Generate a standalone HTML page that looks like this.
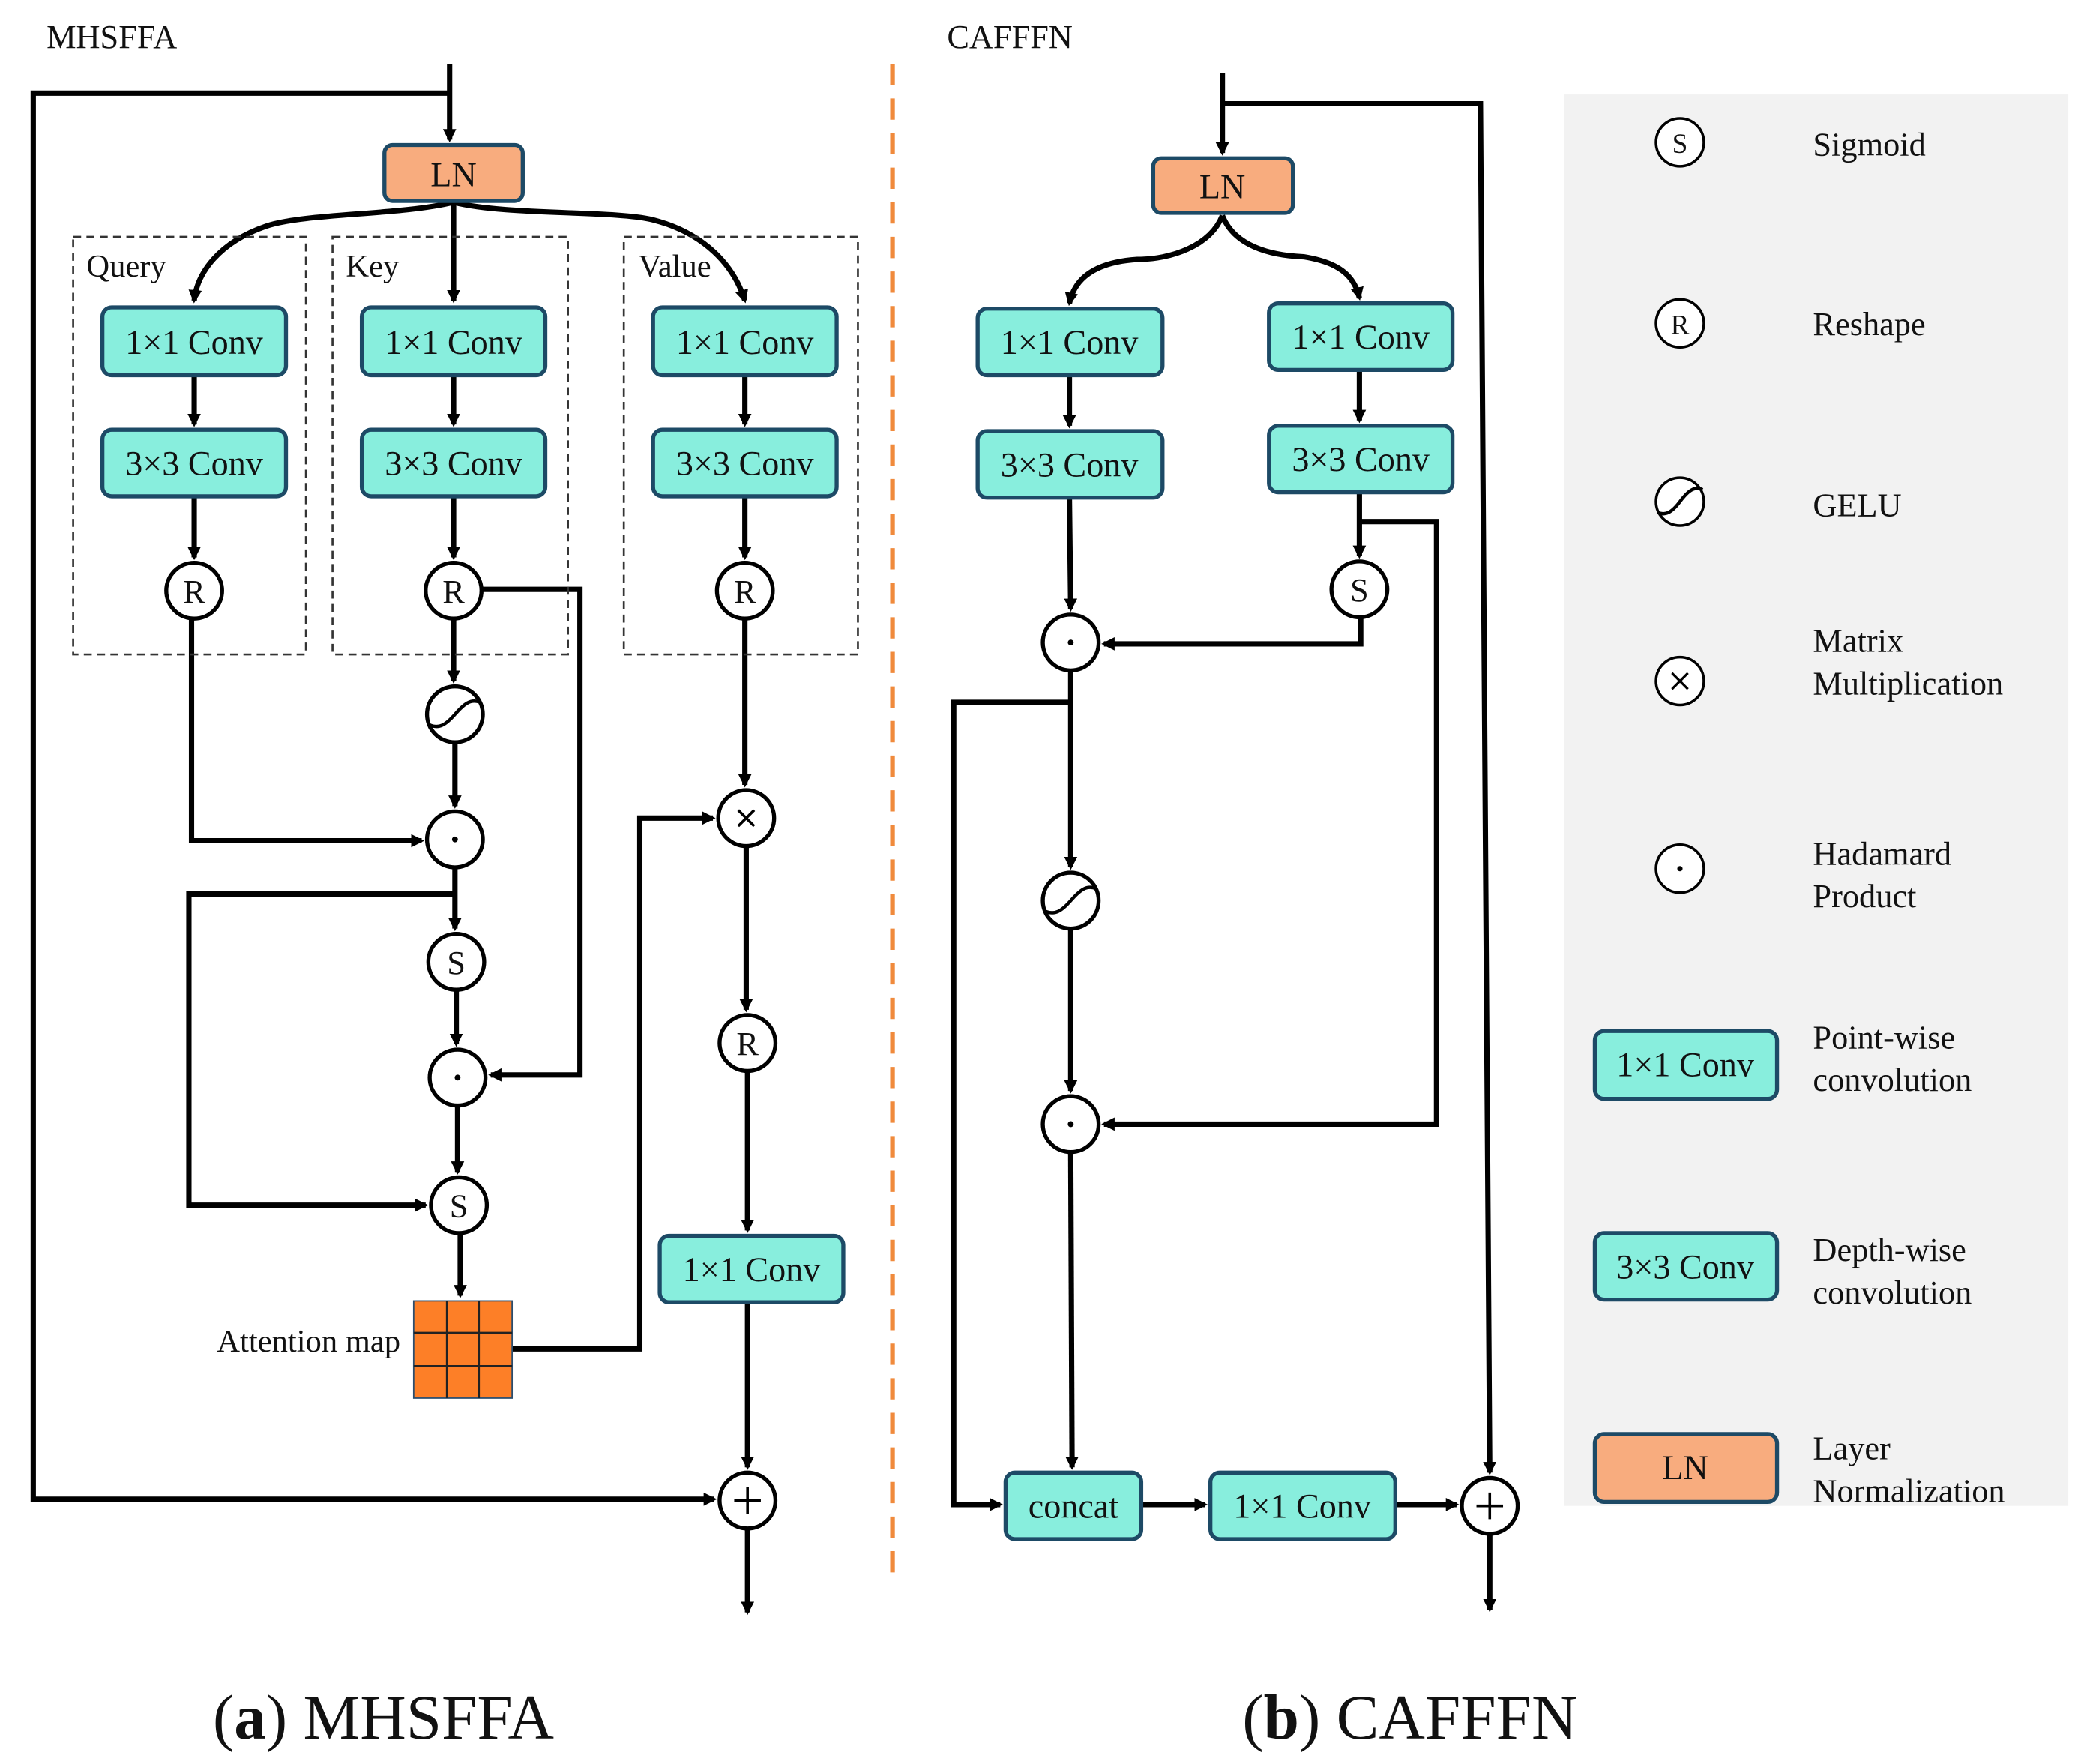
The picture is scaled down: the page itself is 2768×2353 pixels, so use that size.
<!DOCTYPE html>
<html><head><meta charset="utf-8"><style>
html,body{margin:0;padding:0;background:#fff;}
svg{display:block;}
text{font-family:"Liberation Serif","DejaVu Serif",serif;fill:#111;}
</style></head><body>
<svg width="2768" height="2353" viewBox="0 0 1560 1326" xmlns="http://www.w3.org/2000/svg" font-family="Liberation Serif, DejaVu Serif, serif">
<defs>
<marker id="a" markerWidth="12" markerHeight="12" refX="8" refY="6" orient="auto" markerUnits="userSpaceOnUse"><path d="M0,1 L10,6 L0,11 Z" fill="#000"/></marker>
</defs>
<rect x="1176" y="71" width="379" height="1061" fill="#f2f2f2"/>
<text x="35" y="36" font-size="25">MHSFFA</text>
<text x="712" y="36" font-size="25">CAFFFN</text>
<line x1="671" y1="48" x2="671" y2="1185" stroke="#f08a3c" stroke-width="3.5" stroke-dasharray="16,10"/>

<g fill="none" stroke="#000" stroke-width="4">
<line x1="338" y1="48" x2="338" y2="105" marker-end="url(#a)"/>
<polyline points="338,70 25,70 25,1127 537,1127" marker-end="url(#a)"/>
<path d="M341,152 C300,162 230,160 200,170 C165,182 148,205 146,226" marker-end="url(#a)"/>
<line x1="341" y1="152" x2="341" y2="226" marker-end="url(#a)"/>
<path d="M341,152 C380,162 460,158 490,165 C530,175 552,200 560,226" marker-end="url(#a)"/>
<line x1="146" y1="282" x2="146" y2="319" marker-end="url(#a)"/>
<line x1="341" y1="282" x2="341" y2="319" marker-end="url(#a)"/>
<line x1="560" y1="282" x2="560" y2="319" marker-end="url(#a)"/>
<line x1="146" y1="373" x2="146" y2="419" marker-end="url(#a)"/>
<line x1="341" y1="373" x2="341" y2="419" marker-end="url(#a)"/>
<line x1="560" y1="373" x2="560" y2="419" marker-end="url(#a)"/>
<polyline points="362,443 436,443 436,808 369,808" marker-end="url(#a)"/>
<line x1="341" y1="465" x2="341" y2="512" marker-end="url(#a)"/>
<line x1="342" y1="558" x2="342" y2="606" marker-end="url(#a)"/>
<polyline points="144,465 144,632 317,632" marker-end="url(#a)"/>
<line x1="342" y1="652" x2="342" y2="698" marker-end="url(#a)"/>
<polyline points="342,672 142,672 142,906 320,906" marker-end="url(#a)"/>
<line x1="343" y1="744" x2="343" y2="785" marker-end="url(#a)"/>
<line x1="344" y1="831" x2="344" y2="881" marker-end="url(#a)"/>
<line x1="346" y1="927" x2="346" y2="974" marker-end="url(#a)"/>
<polyline points="385,1014 481,1014 481,615 536,615" marker-end="url(#a)"/>
<line x1="560" y1="465" x2="560" y2="590" marker-end="url(#a)"/>
<line x1="561" y1="636" x2="561" y2="759" marker-end="url(#a)"/>
<line x1="562" y1="805" x2="562" y2="925" marker-end="url(#a)"/>
<line x1="562" y1="979" x2="562" y2="1103" marker-end="url(#a)"/>
<line x1="562" y1="1149" x2="562" y2="1212" marker-end="url(#a)"/>

<line x1="919" y1="55" x2="919" y2="115" marker-end="url(#a)"/>
<polyline points="919,78 1113,78 1120,1107" marker-end="url(#a)"/>
<path d="M919,162 C910,185 880,195 855,195 C825,197 808,208 804,228" marker-end="url(#a)"/>
<path d="M919,162 C928,185 955,192 980,193 C1005,197 1018,206 1022,224" marker-end="url(#a)"/>
<line x1="804" y1="282" x2="804" y2="320" marker-end="url(#a)"/>
<line x1="1022" y1="278" x2="1022" y2="316" marker-end="url(#a)"/>
<line x1="804" y1="374" x2="805" y2="458" marker-end="url(#a)"/>
<line x1="1022" y1="370" x2="1022" y2="418" marker-end="url(#a)"/>
<polyline points="1022,392 1080,392 1080,845 830,845" marker-end="url(#a)"/>
<polyline points="1023,464 1023,484 830,484" marker-end="url(#a)"/>
<line x1="805" y1="504" x2="805" y2="652" marker-end="url(#a)"/>
<polyline points="805,528 717,528 717,1131 752,1131" marker-end="url(#a)"/>
<line x1="805" y1="698" x2="805" y2="820" marker-end="url(#a)"/>
<line x1="805" y1="866" x2="806" y2="1103" marker-end="url(#a)"/>
<line x1="858" y1="1131" x2="906" y2="1131" marker-end="url(#a)"/>
<line x1="1049" y1="1131" x2="1095" y2="1131" marker-end="url(#a)"/>
<line x1="1120" y1="1153" x2="1120" y2="1210" marker-end="url(#a)"/>
</g>

<g fill="none" stroke="#333" stroke-width="1.5" stroke-dasharray="6,4">
<rect x="55" y="178" width="175" height="314"/>
<rect x="250" y="178" width="177" height="314"/>
<rect x="469" y="178" width="176" height="314"/>
</g>
<text x="65" y="208" font-size="24">Query</text>
<text x="260" y="208" font-size="24">Key</text>
<text x="480" y="208" font-size="24">Value</text>

<g stroke="#1d4a66" stroke-width="3">
<rect x="289" y="109" width="104" height="42" rx="6" fill="#f8ac7e"/>
<rect x="867" y="119" width="105" height="41" rx="6" fill="#f8ac7e"/>
<rect x="1199" y="1078" width="137" height="51" rx="7" fill="#f8ac7e"/>
<g fill="#88eedd">
<rect x="77" y="231" width="138" height="51" rx="7"/>
<rect x="77" y="323" width="138" height="50" rx="7"/>
<rect x="272" y="231" width="138" height="51" rx="7"/>
<rect x="272" y="323" width="138" height="50" rx="7"/>
<rect x="491" y="231" width="138" height="51" rx="7"/>
<rect x="491" y="323" width="138" height="50" rx="7"/>
<rect x="496" y="929" width="138" height="50" rx="7"/>
<rect x="735" y="232" width="139" height="50" rx="7"/>
<rect x="735" y="324" width="139" height="50" rx="7"/>
<rect x="954" y="228" width="138" height="50" rx="7"/>
<rect x="954" y="320" width="138" height="50" rx="7"/>
<rect x="756" y="1107" width="102" height="50" rx="7"/>
<rect x="910" y="1107" width="139" height="50" rx="7"/>
<rect x="1199" y="775" width="137" height="51" rx="7"/>
<rect x="1199" y="927" width="137" height="50" rx="7"/>
</g></g>
<g font-size="26" text-anchor="middle">
<text x="341" y="140">LN</text>
<text x="919" y="149">LN</text>
<text x="1267" y="1112">LN</text>
<text x="146" y="266">1×1 Conv</text><text x="146" y="357">3×3 Conv</text>
<text x="341" y="266">1×1 Conv</text><text x="341" y="357">3×3 Conv</text>
<text x="560" y="266">1×1 Conv</text><text x="560" y="357">3×3 Conv</text>
<text x="565" y="963">1×1 Conv</text>
<text x="804" y="266">1×1 Conv</text><text x="804" y="358">3×3 Conv</text>
<text x="1023" y="262">1×1 Conv</text><text x="1023" y="354">3×3 Conv</text>
<text x="807" y="1141">concat</text>
<text x="979" y="1141">1×1 Conv</text>
<text x="1267" y="809">1×1 Conv</text>
<text x="1267" y="961">3×3 Conv</text>
</g>

<rect x="311" y="978" width="74" height="73" fill="#fd7f27" stroke="#2a4d6e" stroke-width="1"/>
<g stroke="#222" stroke-width="1.5">
<line x1="336" y1="978" x2="336" y2="1051"/><line x1="360" y1="978" x2="360" y2="1051"/>
<line x1="311" y1="1002" x2="385" y2="1002"/><line x1="311" y1="1027" x2="385" y2="1027"/>
</g>
<text x="301" y="1016" font-size="24" text-anchor="end">Attention map</text>

<g fill="#fff" stroke="#000" stroke-width="3">
<circle cx="146" cy="444" r="21"/><circle cx="341" cy="444" r="21"/><circle cx="560" cy="444" r="21"/>
<circle cx="342" cy="537" r="21"/><circle cx="342" cy="631" r="21"/><circle cx="343" cy="723" r="21"/>
<circle cx="344" cy="810" r="21"/><circle cx="345" cy="906" r="21"/>
<circle cx="561" cy="615" r="21"/><circle cx="562" cy="784" r="21"/><circle cx="562" cy="1128" r="21"/>
<circle cx="1022" cy="443" r="21"/><circle cx="805" cy="483" r="21"/><circle cx="805" cy="677" r="21"/>
<circle cx="805" cy="845" r="21"/><circle cx="1120" cy="1132" r="21"/>
</g>
<g fill="#fff" stroke="#000" stroke-width="2">
<circle cx="1263" cy="107" r="18"/><circle cx="1263" cy="243" r="18"/><circle cx="1263" cy="377" r="18"/>
<circle cx="1263" cy="512" r="18"/><circle cx="1263" cy="653" r="18"/>
</g>
<g fill="none" stroke="#000" stroke-width="2.5">
<path d="M323,545 C330,548 335,545 342,537 C349,529 354,525 361,528"/>
<path d="M786,685 C793,688 798,685 805,677 C812,669 817,665 824,668"/>
<path d="M1246,385 C1252,388 1257,385 1263,377 C1269,369 1274,365 1280,368"/>
<path d="M555,609 L567,621 M567,609 L555,621" stroke-width="2"/>
<path d="M1257,506 L1269,518 M1269,506 L1257,518" stroke-width="1.8"/>
<path d="M552,1128 H572 M562,1118 V1138" stroke-width="2"/>
<path d="M1110,1132 H1130 M1120,1122 V1142" stroke-width="2"/>
</g>
<g fill="#000">
<circle cx="342" cy="631" r="2.2"/><circle cx="344" cy="810" r="2.2"/><circle cx="805" cy="483" r="2.2"/>
<circle cx="805" cy="845" r="2.2"/><circle cx="1263" cy="653" r="2"/>
</g>
<g font-size="25" text-anchor="middle">
<text x="146" y="453">R</text><text x="341" y="453">R</text><text x="560" y="453">R</text>
<text x="562" y="793">R</text>
<text x="343" y="732">S</text><text x="345" y="915">S</text><text x="1022" y="452">S</text>
<text x="1263" y="115" font-size="21">S</text><text x="1263" y="251" font-size="21">R</text>
</g>
<g font-size="25">
<text x="1363" y="117">Sigmoid</text>
<text x="1363" y="252">Reshape</text>
<text x="1363" y="388">GELU</text>
<text x="1363" y="490">Matrix</text><text x="1363" y="522">Multiplication</text>
<text x="1363" y="650">Hadamard</text><text x="1363" y="682">Product</text>
<text x="1363" y="788">Point-wise</text><text x="1363" y="820">convolution</text>
<text x="1363" y="948">Depth-wise</text><text x="1363" y="980">convolution</text>
<text x="1363" y="1097">Layer</text><text x="1363" y="1129">Normalization</text>
</g>
<g font-size="48">
<text x="160" y="1307">(<tspan font-weight="bold">a</tspan>) MHSFFA</text>
<text x="934" y="1307">(<tspan font-weight="bold">b</tspan>) CAFFFN</text>
</g>
</svg>
</body></html>
